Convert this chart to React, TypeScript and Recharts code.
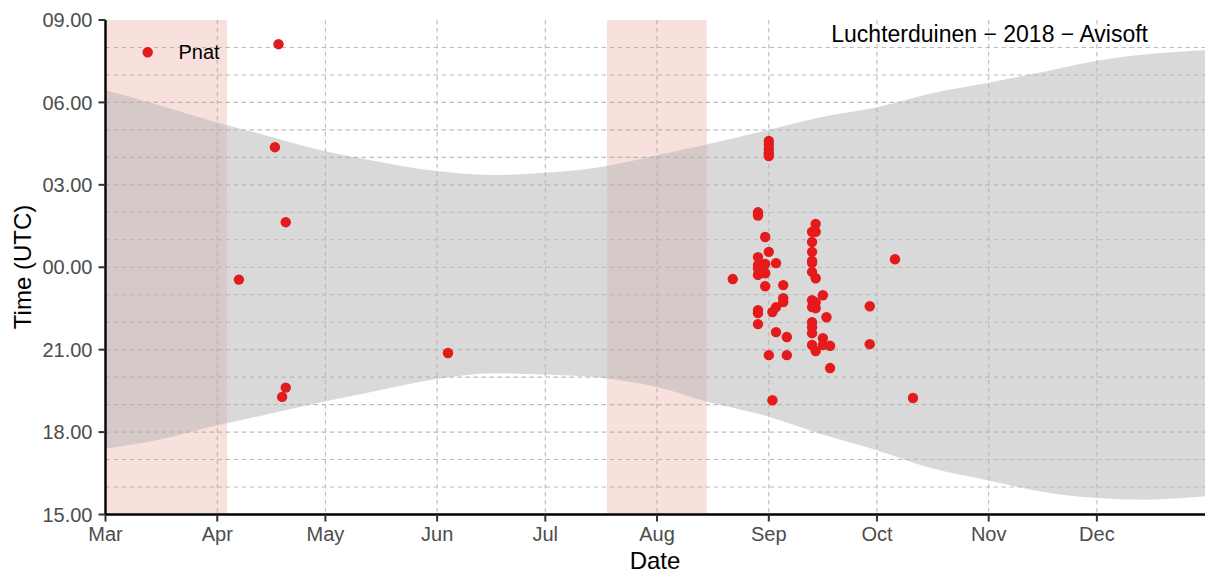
import React from 'react';
import {
  ComposedChart,
  Area,
  Scatter,
  XAxis,
  YAxis,
  CartesianGrid,
  ReferenceArea,
} from 'recharts';

// x: days since 1 March 2018; y: hours after 15:00 UTC
const MONTH_TICKS = [0, 31, 61, 92, 122, 153, 184, 214, 245, 275];
const MONTH_LABELS = ['Mar', 'Apr', 'May', 'Jun', 'Jul', 'Aug', 'Sep', 'Oct', 'Nov', 'Dec'];
const TIME_TICKS = [0, 3, 6, 9, 12, 15, 18];
const TIME_LABELS = ['15.00', '18.00', '21.00', '00.00', '03.00', '06.00', '09.00'];
const HOUR_GRID = [1, 2, 3, 4, 5, 6, 7, 8, 9, 10, 11, 12, 13, 14, 15, 16, 17];

// night band (sunset -> sunrise), clock hours UTC
const bandDays = [0, 14, 31, 45, 61, 75, 92, 107, 122, 136, 153, 167, 184, 198, 214, 228, 245, 259, 275, 289, 305];
const sunriseUTC = [6.45, 5.93, 5.27, 4.78, 4.22, 3.86, 3.5, 3.36, 3.44, 3.62, 4.08, 4.48, 5.0, 5.45, 5.82, 6.3, 6.72, 7.08, 7.52, 7.75, 7.9];
const sunsetUTC = [17.39, 17.7, 18.25, 18.65, 19.12, 19.5, 19.93, 20.14, 20.1, 20.0, 19.64, 19.1, 18.56, 17.95, 17.34, 16.73, 16.24, 15.85, 15.6, 15.54, 15.66];

// shaded periods (days since 1 March)
const periodStart = [0, 139.1];
const periodEnd = [33.7, 166.8];

// Pnat detections
const pnatDay = [
  48, 47, 50, 37, 50, 49, 95, 174,
  184, 184, 184, 184, 184,
  181, 181, 183, 184, 181, 186, 181, 183, 181, 181, 183,
  183, 188, 188, 188, 186, 185, 181, 181, 181, 186, 189, 184, 189, 185,
  197, 196, 197, 196, 196, 196, 196, 196, 197, 199, 196, 197, 196, 197,
  200, 196, 196, 196, 199, 199, 201, 196, 197, 201,
  212, 212, 219, 224,
];
const pnatHoursAfter15 = [
  17.12, 13.37, 10.64, 8.55, 4.62, 4.28, 5.88, 8.57,
  13.6, 13.45, 13.3, 13.15, 13.05,
  11.0, 10.88, 10.1, 9.56, 9.37, 9.15, 9.08, 9.12, 8.95, 8.72, 8.78,
  8.31, 8.35, 7.87, 7.73, 7.55, 7.37, 7.44, 7.33, 6.93, 6.64, 6.46, 5.8, 5.8, 4.16,
  10.58, 10.29, 10.29, 9.92, 9.56, 9.23, 9.16, 8.83, 8.6, 7.98, 7.8, 7.73, 7.55, 7.51,
  7.18, 7.0, 6.82, 6.6, 6.42, 6.17, 6.14, 6.17, 5.95, 5.33,
  7.58, 6.2, 9.29, 4.24,
];

const bandData = bandDays.map((d, i) => ({ d, band: [sunsetUTC[i] - 15, sunriseUTC[i] + 9] }));
const pnatData = pnatDay.map((d, i) => ({ d, t: pnatHoursAfter15[i] }));

const FONT = '"Liberation Sans", Arial, Helvetica, sans-serif';
const RED = '#e41a1c';

const Dot = (props: any) => {
  const { cx, cy } = props;
  if (cx == null || cy == null) return null;
  return <circle cx={cx} cy={cy} r={5.2} fill={RED} />;
};

export default function App() {
  return (
    <div style={{ position: 'absolute', left: 0, top: 0, width: 1205, height: 575, background: '#fff' }}>
      <ComposedChart
        width={1205}
        height={575}
        data={bandData}
        margin={{ top: 20, right: 0, left: 0, bottom: 0.5 }}
      >
        <CartesianGrid
          stroke="#bcbcbc"
          strokeWidth={1.1}
          strokeDasharray="4.5 3.5"
          horizontalValues={HOUR_GRID}
          verticalValues={MONTH_TICKS}
        />
        {periodStart.map((s, i) => (
          <ReferenceArea
            key={i}
            x1={s}
            x2={periodEnd[i]}
            y1={0}
            y2={18}
            fill="#e38773"
            fillOpacity={0.25}
            stroke="none"
            ifOverflow="hidden"
            {...({ zIndex: 0 } as any)}
          />
        ))}
        <Area
          dataKey="band"
          type="monotone"
          fill="#b3b3b3"
          fillOpacity={0.5}
          stroke="none"
          isAnimationActive={false}
          dot={false}
          activeDot={false}
        />
        <Scatter data={pnatData} dataKey="t" shape={Dot} isAnimationActive={false} />
        <XAxis
          dataKey="d"
          type="number"
          domain={[0, 305]}
          allowDataOverflow
          ticks={MONTH_TICKS}
          tickFormatter={(v: number) => MONTH_LABELS[MONTH_TICKS.indexOf(v)]}
          height={60}
          tickSize={7}
          tickMargin={5}
          axisLine={{ stroke: '#000', strokeWidth: 2.4 }}
          tickLine={{ stroke: '#333', strokeWidth: 2 }}
          tick={{ fill: '#4d4d4d', fontSize: 20, fontFamily: FONT }}
        />
        <YAxis
          type="number"
          domain={[0, 18]}
          ticks={TIME_TICKS}
          tickFormatter={(v: number) => TIME_LABELS[TIME_TICKS.indexOf(v)]}
          width={105.5}
          tickSize={7}
          tickMargin={6}
          axisLine={{ stroke: '#000', strokeWidth: 2.4 }}
          tickLine={{ stroke: '#333', strokeWidth: 2 }}
          tick={{ fill: '#4d4d4d', fontSize: 20, fontFamily: FONT }}
        />
      </ComposedChart>
      <svg
        width={1205}
        height={575}
        style={{ position: 'absolute', left: 0, top: 0, pointerEvents: 'none' }}
      >
        <text x={1148} y={41.5} textAnchor="end" fontSize={23} fontFamily={FONT} fill="#000">
          Luchterduinen − 2018 − Avisoft
        </text>
        <circle cx={147.7} cy={52.3} r={5.2} fill={RED} />
        <text x={178.5} y={59.3} fontSize={20} fontFamily={FONT} fill="#000">
          Pnat
        </text>
        <text x={655} y={569} textAnchor="middle" fontSize={24} fontFamily={FONT} fill="#000">
          Date
        </text>
        <text
          x={0}
          y={0}
          transform="translate(31,267) rotate(-90)"
          textAnchor="middle"
          fontSize={24}
          fontFamily={FONT}
          fill="#000"
        >
          Time (UTC)
        </text>
      </svg>
    </div>
  );
}
